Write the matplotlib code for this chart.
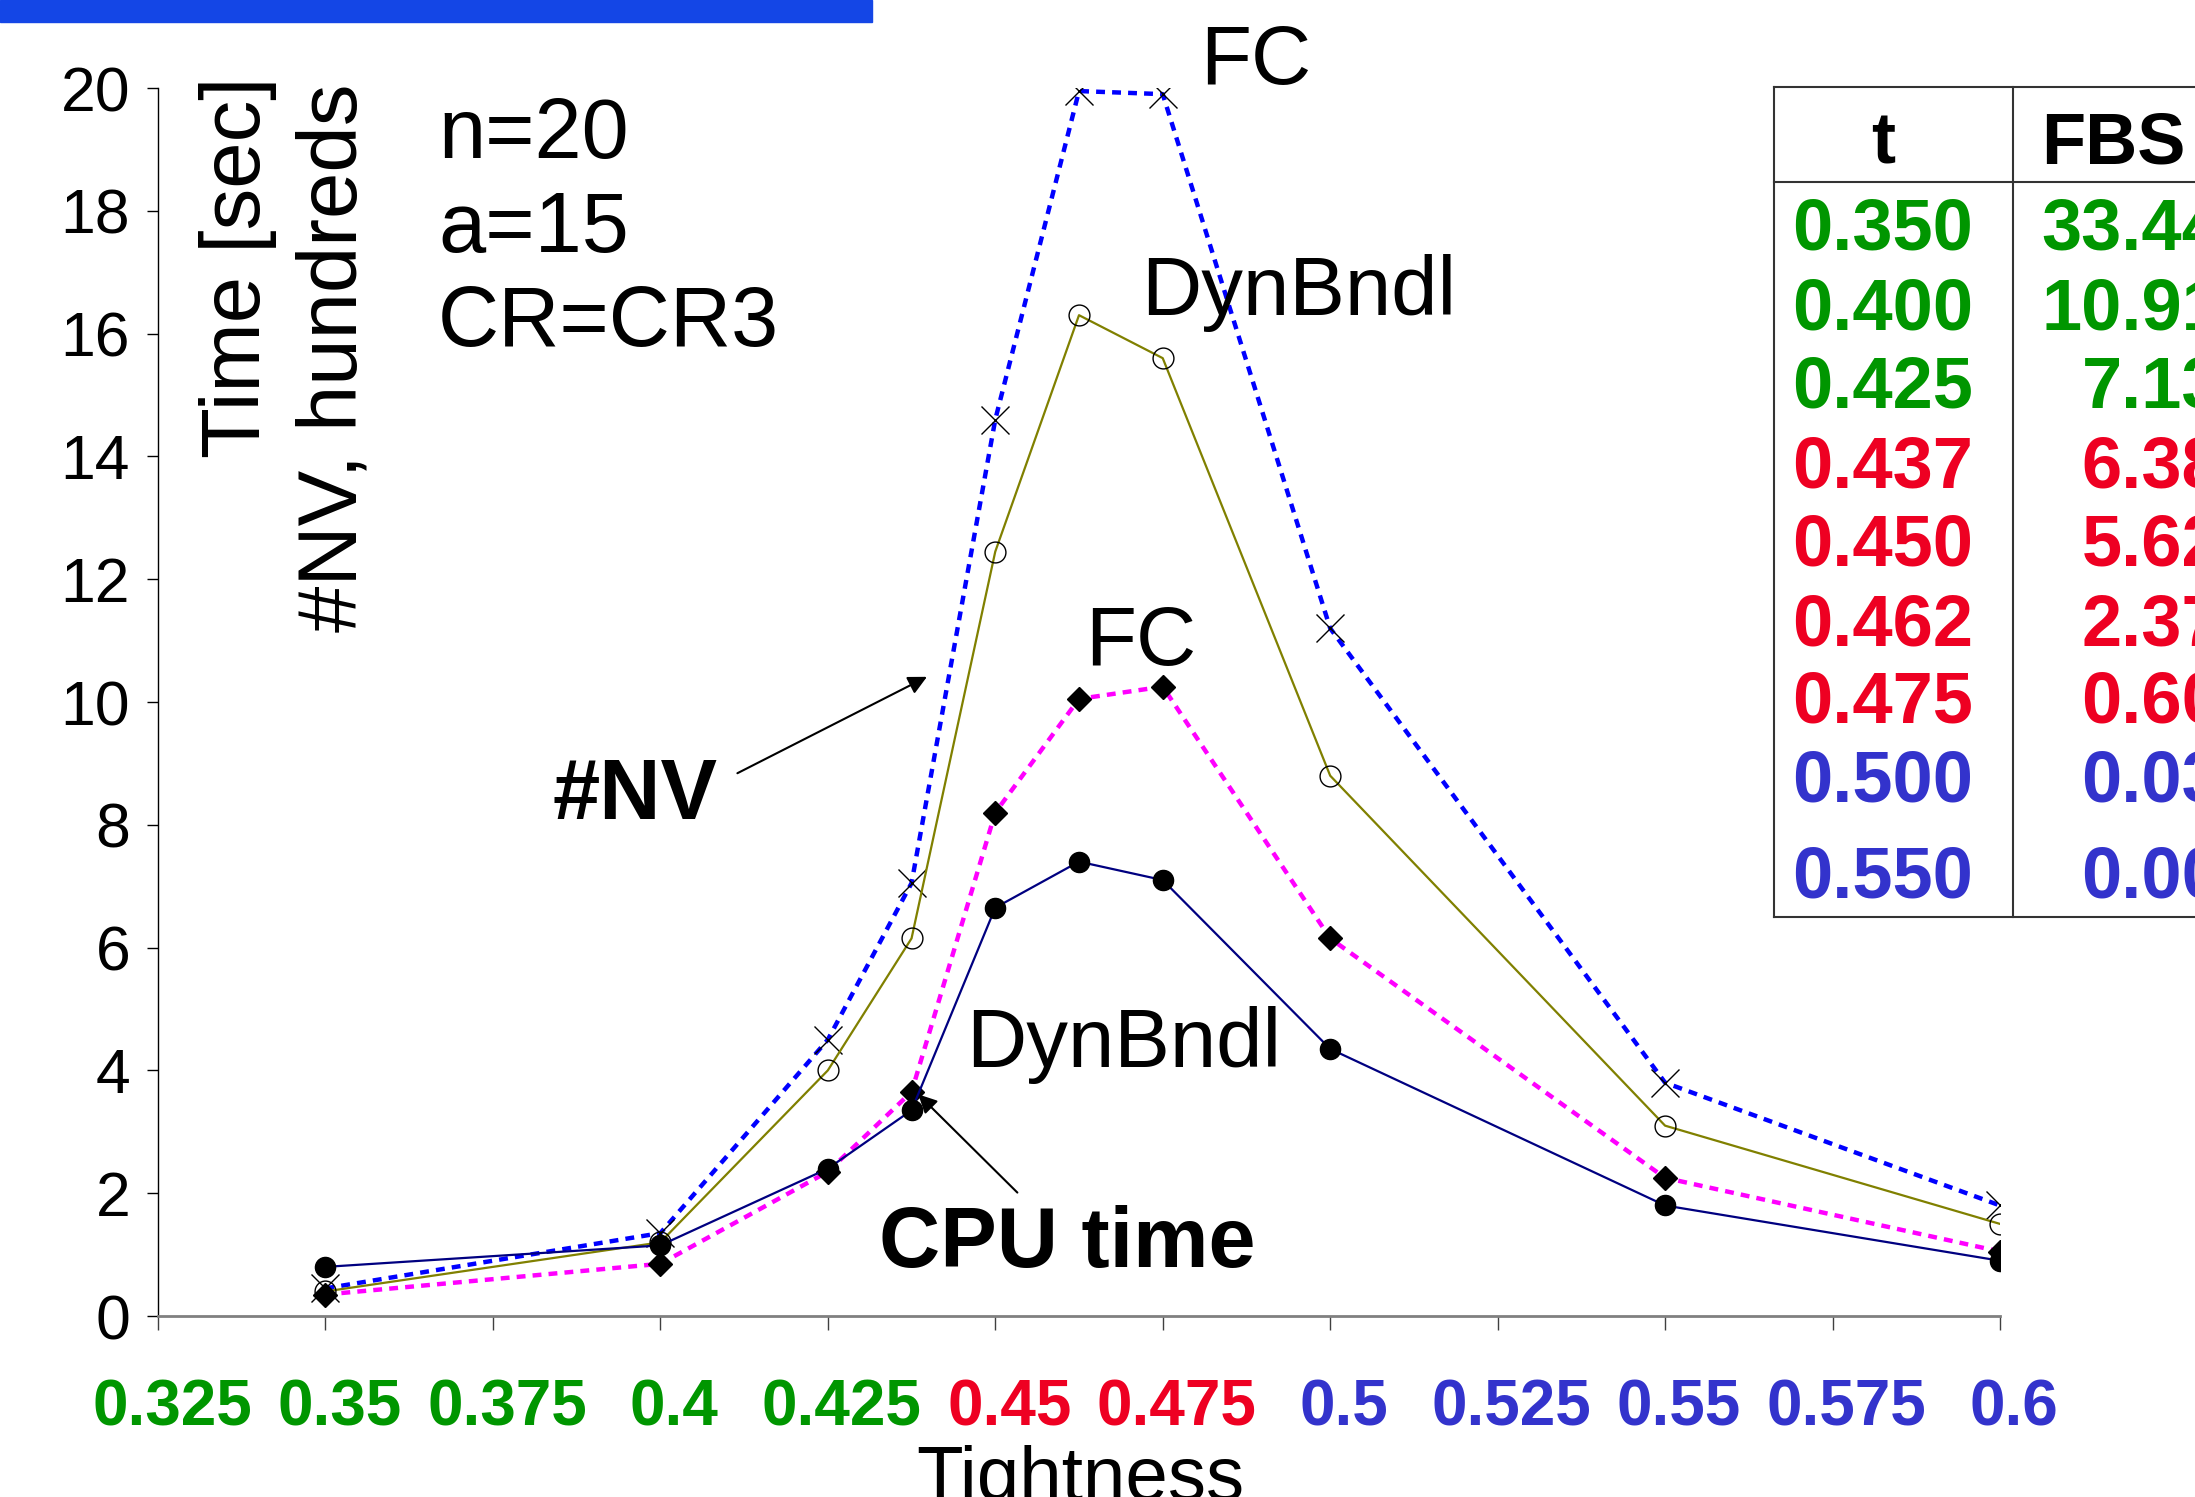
import matplotlib
matplotlib.use('Agg')
import matplotlib.pyplot as plt
import matplotlib.transforms as mtransforms
from matplotlib.patches import Rectangle
from matplotlib.lines import Line2D
import numpy as np

plt.rcParams['font.family'] = ['Liberation Sans', 'DejaVu Sans']

# tightness values of the measurements
tightness = [0.35, 0.4, 0.425, 0.4375, 0.45, 0.4625, 0.475, 0.5, 0.55, 0.6]

# #NV (hundreds)
nv_fc = [0.45, 1.35, 4.5, 7.05, 14.6, 19.95, 19.9, 11.2, 3.8, 1.8]
nv_dynbndl = [0.4, 1.2, 4.0, 6.15, 12.45, 16.3, 15.6, 8.8, 3.1, 1.5]
# CPU time [sec]
cpu_fc = [0.35, 0.85, 2.35, 3.65, 8.2, 10.05, 10.25, 6.15, 2.25, 1.05]
cpu_dynbndl = [0.8, 1.15, 2.4, 3.35, 6.65, 7.4, 7.1, 4.35, 1.8, 0.9]

xtick_vals = [0.325, 0.35, 0.375, 0.4, 0.425, 0.45, 0.475, 0.5, 0.525, 0.55, 0.575, 0.6]
xtick_labels = ['0.325', '0.35', '0.375', '0.4', '0.425', '0.45', '0.475', '0.5',
                '0.525', '0.55', '0.575', '0.6']

# table on the right
table_t = ['0.350', '0.400', '0.425', '0.437', '0.450', '0.462', '0.475', '0.500', '0.550']
table_fbs = ['33.44', '10.91', '7.13', '6.38', '5.62', '2.37', '0.60', '0.03', '0.00']

GREEN = '#009600'
RED = '#EE0022'
BLUE = '#3333CC'


def region_color(t):
    if t < 0.4375:
        return GREEN
    if t < 0.5:
        return RED
    return BLUE


W, H = 2195, 1497
fig = plt.figure(figsize=(W / 100, H / 100), dpi=100)


def fx(px):
    return px / W


def fy(py):
    return 1 - py / H


ax = fig.add_axes([fx(158), fy(1316), fx(2000) - fx(158), fy(88) - fy(1316)])

dots = (0, (2.0, 1.6))
ax.plot(tightness, nv_fc, color='#0000FF', lw=3.2, linestyle=dots,
        marker='x', ms=20, mec='black', mew=1.0, zorder=2)
ax.plot(tightness, nv_dynbndl, color='#808000', lw=1.6,
        marker='o', ms=15, mfc='none', mec='black', mew=1.0, zorder=3)
ax.plot(tightness, cpu_fc, color='#FF00FF', lw=3.2, linestyle=dots,
        marker='D', ms=12, mfc='black', mec='black', zorder=4)
ax.plot(tightness, cpu_dynbndl, color='#000080', lw=1.6,
        marker='o', ms=14.5, mfc='black', mec='black', zorder=5)

ax.set_xlim(0.325, 0.6)
ax.set_ylim(0, 20)
ax.set_yticks(np.arange(0, 21, 2))
ax.set_yticklabels([str(v) for v in range(0, 21, 2)], fontsize=45)
ax.set_xticks(xtick_vals)
ax.set_xticklabels([])
# coloured tick labels, shifted a little to the right like the original
xlab_trans = mtransforms.blended_transform_factory(ax.transData, ax.transAxes) + \
    mtransforms.ScaledTranslation(14 / 100, -63 / 100, fig.dpi_scale_trans)
for v, s in zip(xtick_vals, xtick_labels):
    ax.text(v, 0, s, transform=xlab_trans, fontsize=46, fontweight='bold',
            color=region_color(v), ha='center', va='top', clip_on=False)

ax.tick_params(axis='x', direction='out', length=10, width=1, color='#404040')
ax.tick_params(axis='y', direction='out', length=8, width=1, color='black', pad=12)
ax.spines['top'].set_visible(False)
ax.spines['right'].set_visible(False)
ax.spines['bottom'].set_color('#808080')
ax.spines['bottom'].set_linewidth(2)
ax.spines['left'].set_color('black')
ax.spines['left'].set_linewidth(1)

# axis titles
fig.text(fx(238), fy(77), 'Time [sec]', rotation=90, ha='center', va='top', fontsize=60)
fig.text(fx(335), fy(84), '#NV, hundreds', rotation=90, ha='center', va='top', fontsize=60)
fig.text(fx(1080), fy(1500), 'Tightness', ha='center', va='baseline', fontsize=55)

# parameters
fig.text(fx(438), fy(158), 'n=20', fontsize=61, va='baseline')
fig.text(fx(438), fy(252), 'a=15', fontsize=61, va='baseline')
fig.text(fx(438), fy(346), 'CR=CR3', fontsize=61, va='baseline')

# curve labels
fig.text(fx(1200), fy(84), 'FC', fontsize=60, va='baseline')
fig.text(fx(1141), fy(315), 'DynBndl', fontsize=60, va='baseline')
fig.text(fx(1085), fy(665), 'FC', fontsize=60, va='baseline')
fig.text(fx(966), fy(1067), 'DynBndl', fontsize=60, va='baseline')

arrow = dict(arrowstyle='-|>', color='black', lw=1.5, mutation_scale=28, shrinkA=0, shrinkB=0)
ax.annotate('', xy=(0.4398, 10.41), xytext=(0.4115, 8.84), arrowprops=arrow)
ax.annotate('', xy=(0.4385, 3.61), xytext=(0.4533, 2.01), arrowprops=arrow)
fig.text(fx(553), fy(819), '#NV', fontsize=61, fontweight='bold', va='baseline')
fig.text(fx(879), fy(1267), 'CPU time', fontsize=61, fontweight='bold', va='baseline')

# top banner
fig.patches.append(Rectangle((0, fy(22)), fx(872), 22 / H, transform=fig.transFigure,
                             color='#1446E6', zorder=0))

# table
tl = dict(color='#333333', lw=1.5, transform=fig.transFigure)
fig.add_artist(Line2D([fx(1774), 1], [fy(87), fy(87)], **tl))
fig.add_artist(Line2D([fx(1774), 1], [fy(182), fy(182)], **tl))
fig.add_artist(Line2D([fx(1774), 1], [fy(917), fy(917)], **tl))
fig.add_artist(Line2D([fx(1774), fx(1774)], [fy(87), fy(917)], **tl))
fig.add_artist(Line2D([fx(2013), fx(2013)], [fy(87), fy(917)], **tl))

fig.text(fx(1883), fy(164), 't', fontsize=52, fontweight='bold', ha='center', va='baseline')
fig.text(fx(2041), fy(164), 'FBS', fontsize=52, fontweight='bold', ha='left', va='baseline')
row_base = [250, 330, 408, 488, 566, 645, 723, 802, 897]
for tv, fv, yb in zip(table_t, table_fbs, row_base):
    c = region_color(float(tv) + 1e-4 if tv != '0.437' else 0.4375)
    fig.text(fx(1883), fy(yb), tv, fontsize=52, fontweight='bold', color=c,
             ha='center', va='baseline')
    fig.text(fx(2222), fy(yb), fv, fontsize=52, fontweight='bold', color=c,
             ha='right', va='baseline')

fig.savefig('out.png', dpi=100)
